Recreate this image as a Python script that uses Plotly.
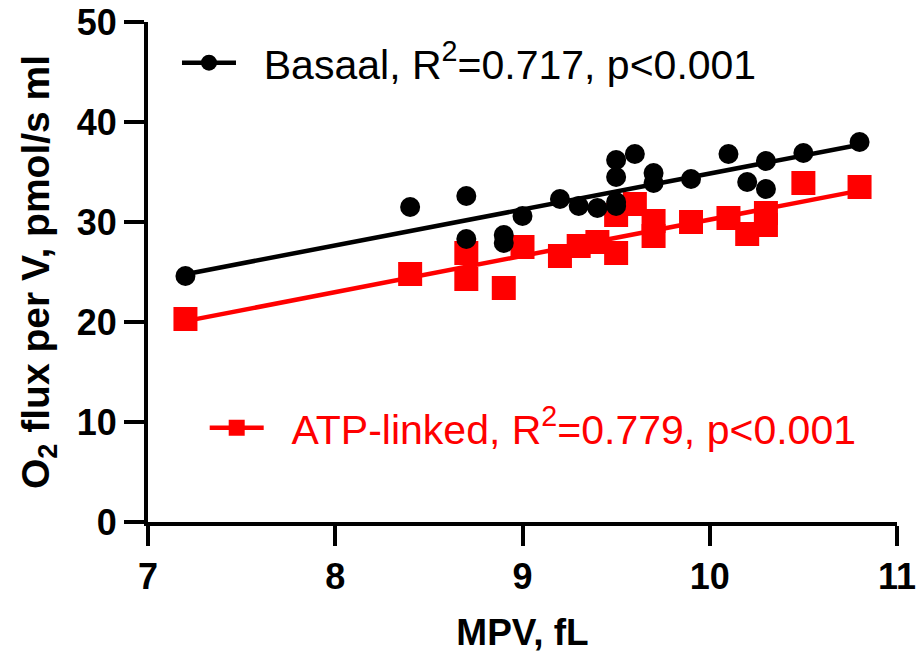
import numpy as np
import plotly.graph_objects as go

# ---- data ----
basal_x = [7.2, 8.4, 8.7, 8.7, 8.9, 8.9, 9.0, 9.2, 9.3, 9.4, 9.5, 9.5, 9.5, 9.5,
           9.6, 9.7, 9.7, 9.9, 10.1, 10.2, 10.3, 10.3, 10.5, 10.8]
basal_y = [24.6, 31.5, 32.6, 28.3, 28.7, 27.9, 30.6, 32.3, 31.6, 31.4, 36.2, 34.5, 31.6, 32.0,
           36.8, 34.9, 33.9, 34.3, 36.8, 34.0, 36.1, 33.3, 36.9, 38.0]

atp_x = [7.2, 8.4, 8.7, 8.7, 8.9, 9.0, 9.2, 9.3, 9.4, 9.5, 9.5,
         9.6, 9.7, 9.7, 9.9, 10.1, 10.2, 10.3, 10.3, 10.5, 10.8]
atp_y = [20.3, 24.8, 26.9, 24.3, 23.4, 27.5, 26.6, 27.6, 28.0, 30.7, 26.9,
         31.8, 30.1, 28.6, 30.0, 30.4, 28.8, 30.9, 29.7, 33.9, 33.5]

NB = "\u00a0\u00a0"
basal_label = NB + "Basaal, R<sup>2</sup>=0.717, p&lt;0.001"
atp_label = NB + "ATP-linked, R<sup>2</sup>=0.779, p&lt;0.001"

x_ticks = [7, 8, 9, 10, 11]
y_ticks = [0, 10, 20, 30, 40, 50]
x_title = "MPV, fL"
y_title = "O<sub>2</sub> flux per V, pmol/s ml"

BLACK = "#000000"
RED = "#FF0000"
FONT = "Liberation Sans, Arial, sans-serif"


def fit_line(xs, ys):
    xs = np.asarray(xs, float)
    ys = np.asarray(ys, float)
    k, b = np.polyfit(xs, ys, 1)
    lx = np.array([xs.min(), xs.max()])
    return lx, k * lx + b


fig = go.Figure()

series = [
    (atp_x, atp_y, RED, "square", 24, atp_label, "legend2"),
    (basal_x, basal_y, BLACK, "circle", 20, basal_label, "legend"),
]
for xs, ys, color, symbol, size, name, leg in series:
    lx, ly = fit_line(xs, ys)
    fig.add_trace(go.Scatter(x=lx, y=ly, mode="lines", line=dict(color=color, width=4.5),
                             showlegend=False, hoverinfo="skip"))
    fig.add_trace(go.Scatter(x=xs, y=ys, mode="markers",
                             marker=dict(color=color, symbol=symbol, size=size, line=dict(width=0)),
                             showlegend=False))
    fig.add_trace(go.Scatter(x=[None], y=[None], mode="lines+markers", name=name,
                             line=dict(color=color, width=4.5),
                             marker=dict(color=color, symbol=symbol, size=size),
                             legend=leg))

axis_common = dict(
    showline=True, linecolor=BLACK, linewidth=4,
    ticks="outside", ticklen=20, tickwidth=4, tickcolor=BLACK,
    showgrid=False, zeroline=False, mirror=False, automargin=False,
    ticklabeloverflow="allow",
    tickfont=dict(family=FONT, size=36, color=BLACK, weight="bold"),
)

fig.update_layout(
    width=918, height=656,
    margin=dict(l=148, r=21, t=22, b=134),
    paper_bgcolor="white", plot_bgcolor="white",
    xaxis=dict(range=[7, 11], tickvals=x_ticks, ticktext=[str(v) for v in x_ticks],
               title=dict(text=x_title, font=dict(family=FONT, size=37, color=BLACK, weight="bold"),
                          standoff=24),
               **axis_common),
    yaxis=dict(range=[0, 50], tickvals=y_ticks, ticktext=[str(v) for v in y_ticks],
               title=dict(text=y_title, font=dict(family=FONT, size=39, color=BLACK, weight="bold"),
                          standoff=16),
               **axis_common),
    legend=dict(x=0.0387, y=0.918, xanchor="left", yanchor="middle",
                font=dict(family=FONT, size=41, color=BLACK),
                bgcolor="rgba(0,0,0,0)", itemwidth=54, tracegroupgap=0),
    legend2=dict(x=0.0757, y=0.188, xanchor="left", yanchor="middle",
                 font=dict(family=FONT, size=41, color=RED),
                 bgcolor="rgba(0,0,0,0)", itemwidth=54, tracegroupgap=0),
    showlegend=True,
)

# remove the default 8px page margin so the figure sits at the window's top-left corner
fig.write_html("out.html", config={"displayModeBar": False},
               post_script="document.body.style.margin='0';")
